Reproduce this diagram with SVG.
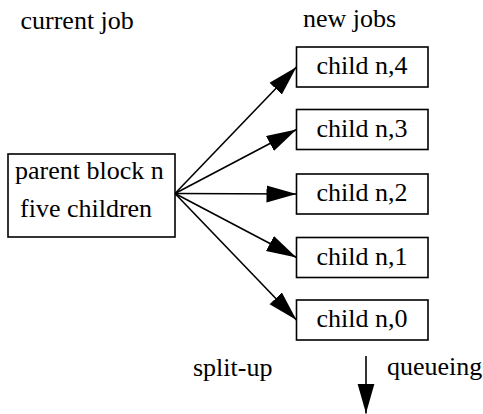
<svg xmlns="http://www.w3.org/2000/svg" width="483" height="414" viewBox="0 0 483 414">
  <style>
    text { font-family: "Liberation Serif", "Times New Roman", serif; font-size: 26px; fill: #000; }
    .box { fill: #fff; stroke: #000; stroke-width: 1.6; }
    .edge { fill: none; stroke: #000; stroke-width: 1.6; }
    .mid { text-anchor: middle; }
  </style>
  <defs>
    <!-- solid arrowhead, 30 long and 17 wide, tip at the line end -->
    <marker id="arrow" markerUnits="userSpaceOnUse" markerWidth="31" markerHeight="18" refX="30" refY="8.5" orient="auto">
      <path d="M0,0 L30,8.5 L0,17 z" fill="#000"/>
    </marker>
  </defs>

  <rect width="483" height="414" fill="#fff"/>

  <!-- column headings and captions -->
  <g id="labels">
    <text x="20.5" y="29">current job</text>
    <text x="303" y="27">new jobs</text>
    <text x="193" y="376">split-up</text>
    <text x="387" y="375">queueing</text>
  </g>

  <!-- fan-out from the parent block to its children, plus the queue arrow -->
  <g id="connectors">
    <line class="edge" x1="175" y1="193.5" x2="296.5" y2="67" marker-end="url(#arrow)"/>
    <line class="edge" x1="175" y1="193.5" x2="296.5" y2="129.5" marker-end="url(#arrow)"/>
    <line class="edge" x1="175" y1="193.5" x2="296.5" y2="194" marker-end="url(#arrow)"/>
    <line class="edge" x1="175" y1="193.5" x2="296.5" y2="257.5" marker-end="url(#arrow)"/>
    <line class="edge" x1="175" y1="193.5" x2="296.5" y2="320" marker-end="url(#arrow)"/>
    <line class="edge" x1="366" y1="356" x2="366" y2="413.5" marker-end="url(#arrow)"/>
  </g>

  <g id="parent">
    <rect class="box" x="8" y="154" width="167" height="83"/>
    <text x="15" y="179">parent block n</text>
    <text x="20" y="217">five children</text>
  </g>

  <g id="child4">
    <rect class="box" x="296.5" y="47" width="131.5" height="40"/>
    <text class="mid" x="362" y="74">child n,4</text>
  </g>
  <g id="child3">
    <rect class="box" x="296.5" y="109.5" width="131.5" height="40"/>
    <text class="mid" x="362" y="136.5">child n,3</text>
  </g>
  <g id="child2">
    <rect class="box" x="296.5" y="174" width="131.5" height="40"/>
    <text class="mid" x="362" y="201">child n,2</text>
  </g>
  <g id="child1">
    <rect class="box" x="296.5" y="237.5" width="131.5" height="40"/>
    <text class="mid" x="362" y="264.5">child n,1</text>
  </g>
  <g id="child0">
    <rect class="box" x="296.5" y="300" width="131.5" height="40"/>
    <text class="mid" x="362" y="327">child n,0</text>
  </g>
</svg>
